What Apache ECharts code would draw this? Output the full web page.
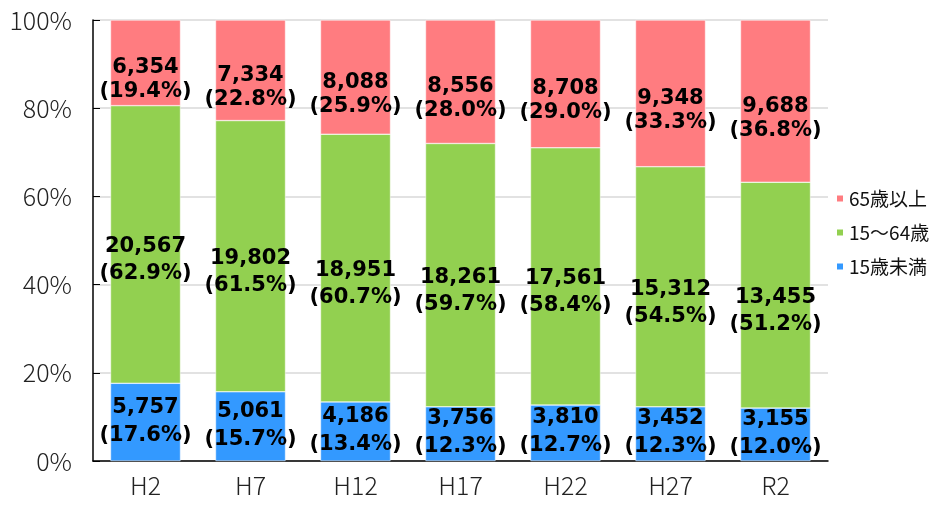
<!DOCTYPE html>
<html><head><meta charset="utf-8">
<script src="https://cdn.jsdelivr.net/npm/echarts@6/dist/echarts.min.js"></script>
<style>html,body{margin:0;padding:0;background:#fff}#c{width:943px;height:506px}</style>
</head><body><div id="c"></div>
<script>
const categories = ['H2','H7','H12','H17','H22','H27','R2'];
const seriesNames = ['65歳以上','15〜64歳','15歳未満'];
const countOld = [6354, 7334, 8088, 8556, 8708, 9348, 9688];
const pctOld = [19.4, 22.8, 25.9, 28.0, 29.0, 33.3, 36.8];
const countMid = [20567, 19802, 18951, 18261, 17561, 15312, 13455];
const pctMid = [62.9, 61.5, 60.7, 59.7, 58.4, 54.5, 51.2];
const countYoung = [5757, 5061, 4186, 3756, 3810, 3452, 3155];
const pctYoung = [17.6, 15.7, 13.4, 12.3, 12.7, 12.3, 12.0];
const yTicks = [0, 20, 40, 60, 80, 100];

const colors = ['#FF7C80', '#92D050', '#3399FF'];
const axisFont = "'Noto Sans CJK JP', 'Noto Sans', sans-serif";
function fmt(n){ return n.toLocaleString('en-US'); }
function mkLabel(counts, pcts, offY, lh){
  return {
    show: true, position: 'inside', offset: [0, offY],
    fontFamily: 'DejaVu Sans', fontWeight: 'bold', fontSize: 21,
    lineHeight: lh, color: '#000',
    formatter: p => fmt(counts[p.dataIndex]) + '\n(' + pcts[p.dataIndex].toFixed(1) + '%)'
  };
}
const chart = echarts.init(document.getElementById('c'), null, {renderer: 'canvas'});
const rows = [
  {name: seriesNames[2], counts: countYoung, pcts: pctYoung, color: colors[2], off: -1, lh: 28},
  {name: seriesNames[1], counts: countMid, pcts: pctMid, color: colors[1], off: 16, lh: 27},
  {name: seriesNames[0], counts: countOld, pcts: pctOld, color: colors[0], off: 17, lh: 24}
];
const totals = categories.map((_, i) => pctOld[i] + pctMid[i] + pctYoung[i]);
chart.setOption({
  animation: false,
  color: colors,
  grid: {left: 93, right: 115, top: 20, bottom: 45},
  legend: {
    data: seriesNames, orient: 'vertical', left: 830, top: 184,
    icon: 'rect', itemWidth: 8, itemHeight: 8, itemGap: 15,
    textStyle: {fontFamily: axisFont, fontSize: 19, color: '#111'}
  },
  xAxis: {
    type: 'category', data: categories,
    axisLine: {lineStyle: {color: '#000', width: 1.5}},
    axisTick: {inside: true, length: 8, lineStyle: {color: '#000'}},
    axisLabel: {fontFamily: axisFont, fontWeight: 300, fontSize: 25, color: '#222', margin: 12}
  },
  yAxis: {
    type: 'value', min: yTicks[0], max: yTicks[yTicks.length-1], interval: 20,
    axisLine: {show: true, lineStyle: {color: '#000', width: 1.5}},
    axisTick: {show: true, inside: true, length: 7, lineStyle: {color: '#000'}},
    splitLine: {lineStyle: {color: '#d9d9d9', width: 1.5}},
    axisLabel: {formatter: '{value}%', fontFamily: axisFont, fontWeight: 300, fontSize: 25, color: '#222', margin: 21}
  },
  series: rows.map(r => ({
    name: r.name, type: 'bar', stack: 'a', barWidth: 70,
    data: r.pcts.map((v, i) => v / totals[i] * 100),
    itemStyle: {color: r.color, borderColor: '#fff', borderWidth: 0.5},
    label: mkLabel(r.counts, r.pcts, r.off, r.lh)
  }))
});
</script></body></html>
